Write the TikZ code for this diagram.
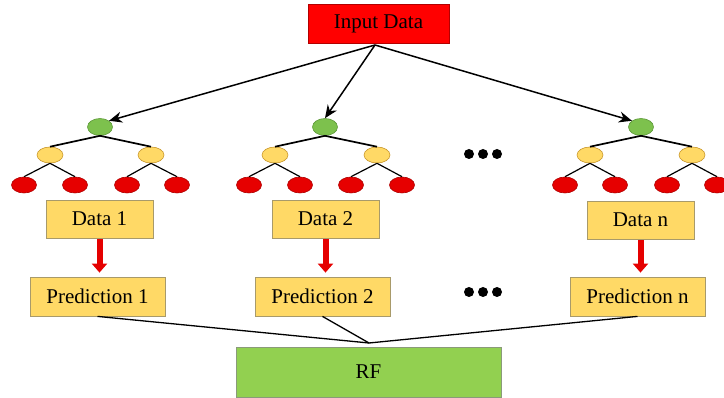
\documentclass[tikz,border=0pt]{standalone}
\usepackage{fontspec}
\setmainfont{Liberation Serif}
\usetikzlibrary{arrows.meta,shapes.geometric}
\definecolor{inred}{HTML}{FF0000}
\definecolor{boxyel}{HTML}{FFD966}
\definecolor{boxedge}{HTML}{A89A6A}
\definecolor{rfgreen}{HTML}{92D050}
\definecolor{rfedge}{HTML}{8A9A7A}
\definecolor{rootgreen}{HTML}{7DC14D}
\definecolor{rootedge}{HTML}{5E9A3A}
\definecolor{leafred}{HTML}{E60000}
\definecolor{leafedge}{HTML}{B00000}
\definecolor{midedge}{HTML}{C8962A}
\tikzset{
  txt/.style={font=\fontsize{21}{25}\selectfont, text=black},
  inbox/.style={txt, draw=inred!70!black, fill=inred, line width=0.6pt, minimum width=141pt, minimum height=39pt, inner sep=0pt},
  databox/.style={txt, draw=boxedge, fill=boxyel, line width=0.8pt, minimum width=107pt, minimum height=38pt, inner sep=0pt},
  predbox/.style={txt, draw=boxedge, fill=boxyel, line width=0.8pt, minimum width=135pt, minimum height=39pt, inner sep=0pt},
  rfbox/.style={txt, draw=rfedge, fill=rfgreen, line width=0.8pt, minimum width=265pt, minimum height=50pt, inner sep=0pt},
  rootnode/.style={ellipse, draw=rootedge, fill=rootgreen, line width=0.6pt, minimum width=25pt, minimum height=17pt, inner sep=0pt},
  midnode/.style={ellipse, draw=midedge, fill=boxyel, line width=0.6pt, minimum width=26pt, minimum height=16pt, inner sep=0pt},
  leafnode/.style={ellipse, draw=leafedge, fill=leafred, line width=0.6pt, minimum width=25pt, minimum height=16pt, inner sep=0pt},
  upedge/.style={draw=black, line width=1.7pt},
  lowedge/.style={draw=black, line width=1.2pt},
  inarrow/.style={draw=black, line width=1.5pt, -{Stealth[length=13pt,width=11pt]}},
  redarrow/.style={draw=inred!90!black, line width=6pt, -{Triangle[length=9pt,width=15pt]}, shorten >=4pt, shorten <=1pt},
  predline/.style={draw=black, line width=1.3pt},
  dotmark/.style={circle, fill=black, minimum size=10pt, inner sep=0pt}
}
\begin{document}
\begin{tikzpicture}[x=1pt, y=-1pt]
\useasboundingbox (0,0) rectangle (724,398);
\fill[white] (0,0) rectangle (724,398);

% input
\node[inbox] (in) at (378.5,23.5) {Input Data};
\coordinate (apex) at (375,45);

% trees
\foreach \t/\rx/\ya/\yb/\la/\lb/\lc/\ld in {a/100/50/151/24/75/127/177, b/325/275/377/249/300/351/402, c/641/590/692/565/615/667/717}{
  \node[rootnode] (r\t) at (\rx,127) {};
  \node[midnode] (m\t1) at (\ya,155) {};
  \node[midnode] (m\t2) at (\yb,155) {};
  \node[leafnode] (l\t1) at (\la,185) {};
  \node[leafnode] (l\t2) at (\lb,185) {};
  \node[leafnode] (l\t3) at (\lc,185) {};
  \node[leafnode] (l\t4) at (\ld,185) {};
  \draw[upedge] (r\t.south) -- (m\t1.north);
  \draw[upedge] (r\t.south) -- (m\t2.north);
  \draw[lowedge] (m\t1.south) -- (l\t1.north);
  \draw[lowedge] (m\t1.south) -- (l\t2.north);
  \draw[lowedge] (m\t2.south) -- (l\t3.north);
  \draw[lowedge] (m\t2.south) -- (l\t4.north);
}

\draw[inarrow] (apex) -- (ra.north east);
\draw[inarrow] (apex) -- (rb.north);
\draw[inarrow] (apex) -- (rc.north west);

% dots
\node[dotmark] (d1) at (469,154) {};
\node[dotmark] (d2) at (483,154) {};
\node[dotmark] (d3) at (497,154) {};
\node[dotmark] (e1) at (469,292) {};
\node[dotmark] (e2) at (483,292) {};
\node[dotmark] (e3) at (497,292) {};

% data boxes
\node[databox] (da) at (99.5,219) {Data 1};
\node[databox] (db) at (325.5,219) {Data 2};
\node[databox] (dc) at (640.5,220) {Data n};

% predictions
\node[predbox] (pa) at (97.5,296.5) {Prediction 1};
\node[predbox] (pb) at (322.5,296.5) {Prediction 2};
\node[predbox] (pc) at (637.5,296.5) {Prediction n};

\draw[redarrow] (da.south) -- (da.south |- pa.north);
\draw[redarrow] (db.south) -- (db.south |- pb.north);
\draw[redarrow] (dc.south) -- (dc.south |- pc.north);

% RF
\node[rfbox] (rf) at (368.5,372) {RF};
\coordinate (join) at (369,343);
\draw[predline] (pa.south) -- (join);
\draw[predline] (pb.south) -- (join);
\draw[predline] (pc.south) -- (join);
\end{tikzpicture}
\end{document}
